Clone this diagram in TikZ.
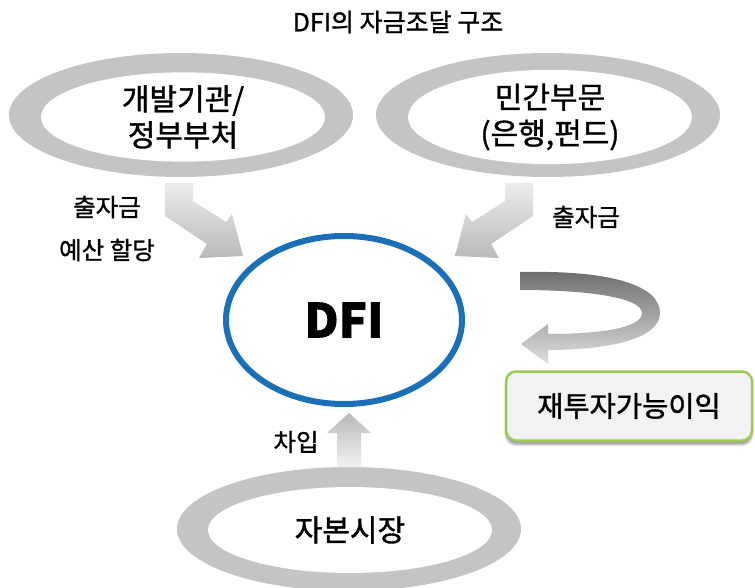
\documentclass[tikz,border=0pt]{standalone}
\usepackage{fontspec}
\setmainfont{Noto Sans CJK KR}[FakeBold=1.2]
\usepackage{tikz}
\usetikzlibrary{shapes.geometric, shadows.blur}
\definecolor{Ringgray}{HTML}{C4C4C4}
\definecolor{Dfiblue}{HTML}{1A70B8}
\definecolor{Boxgreen}{HTML}{9BCB4F}
\definecolor{Boxfill}{HTML}{F2F2F4}
\tikzstyle{ringout} = [
    ellipse,
    inner sep=0pt,
    minimum width=344pt,
    minimum height=124pt,
    fill=Ringgray
]
\tikzstyle{ringin} = [
    ellipse,
    inner sep=0pt,
    minimum width=284pt,
    minimum height=86pt,
    align=center,
    fill=white,
    font=\fontsize{30}{36}\selectfont
]
\tikzstyle{dfi} = [
    ellipse,
    minimum width=236pt,
    minimum height=168pt,
    line width=6pt,
    draw=Dfiblue,
    font=\fontsize{47}{56}\selectfont\bfseries
]
\tikzstyle{profit} = [
    rectangle, rounded corners=10pt,
    minimum width=246pt,
    minimum height=69pt,
    line width=2.5pt,
    draw=Boxgreen,
    fill=Boxfill,
    blur shadow={shadow xshift=0pt, shadow yshift=-4pt, shadow blur steps=6},
    font=\fontsize{28.5}{33}\selectfont
]
\tikzstyle{label} = [
    font=\fontsize{24.5}{29}\selectfont
]

\begin{document}
\begin{tikzpicture}[x=1pt, y=-1pt]
    \useasboundingbox (0,0) rectangle (755,588);

    \node (title)     [label, font=\fontsize{25}{30}\selectfont] at (398,22) {DFI의 자금조달 구조};

    \node (govOut)    [ringout]                  at (181,115) {};
    \node (gov)       [ringin]                   at (183,117) {개발기관/\\정부부처};
    \node (privOut)   [ringout]                  at (548,115) {};
    \node (priv)      [ringin]                   at (550,117) {민간부문\\(은행,펀드)};
    \node (mktOut)    [ringout]                  at (349,529) {};
    \node (mkt)       [ringin]                   at (350,530) {자본시장};

    \node (dfi)       [dfi]                      at (344,320) {DFI};
    \node (reinvest)  [profit]                   at (629,406) {재투자가능이익};

    \node (govLbl)    [label]                    at (107,207) {출자금};
    \node (budgetLbl) [label]                    at (107,250) {예산 할당};
    \node (privLbl)   [label]                    at (586,217) {출자금};
    \node (loanLbl)   [label]                    at (296,442) {차입};

    % block arrows
    \shade [top color=gray!15, bottom color=gray!55]
        (165,183) -- (193,183) -- (193,201) -- (226,222) -- (232,214) -- (243,256)
        -- (199,258) -- (207,244) -- (165,216) -- cycle;
    \shade [top color=gray!15, bottom color=gray!55]
        (533,183) -- (505,183) -- (505,201) -- (472,222) -- (466,214) -- (455,256)
        -- (499,258) -- (491,244) -- (533,216) -- cycle;
    \shade [top color=gray!55, bottom color=gray!10]
        (337,467) -- (337,433) -- (327,433) -- (349,413) -- (371,433) -- (361,433)
        -- (361,467) -- cycle;
    \shade [top color=gray!85!black, bottom color=gray!25]
        (520,272) .. controls (610,270) and (660,285) .. (660,313)
        .. controls (660,340) and (605,350) .. (548,350) -- (548,364) -- (521,344)
        -- (548,324) -- (548,334) .. controls (600,334) and (642,328) .. (642,313)
        .. controls (642,298) and (590,290) .. (520,290) -- cycle;

\end{tikzpicture}
\end{document}
